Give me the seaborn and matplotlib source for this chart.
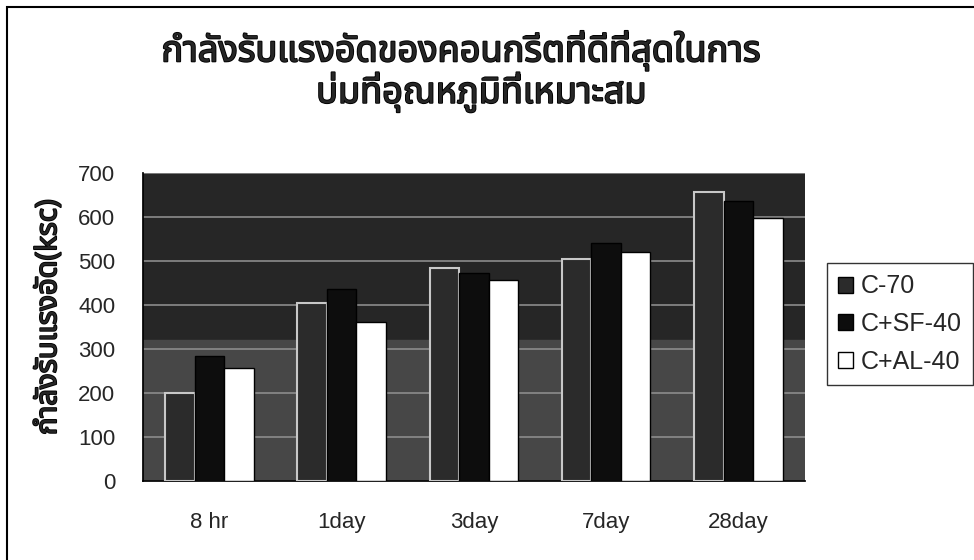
import matplotlib
matplotlib.use("Agg")
import matplotlib.pyplot as plt
import matplotlib.patheffects as pe
import pandas as pd
import seaborn as sns
from matplotlib.patches import Rectangle

# ข้อมูลกำลังรับแรงอัด (ksc)
ages = ["8 hr", "1day", "3day", "7day", "28day"]
mixes = ["C-70", "C+SF-40", "C+AL-40"]
c70 = [200, 405, 485, 505, 658]
csf40 = [284, 436, 472, 542, 637]
cal40 = [257, 361, 457, 520, 597]

title_1 = "กำลังรับแรงอัดของคอนกรีตที่ดีที่สุดในการ"
title_2 = "บ่มที่อุณหภูมิที่เหมาะสม"
y_label = "กำลังรับแรงอัด(ksc)"

df = pd.DataFrame({
    "age": ages * 3,
    "mix": [m for m in mixes for _ in ages],
    "ksc": c70 + csf40 + cal40,
})

sns.set_theme(style="white")
thai_fonts = ["Noto Sans Thai", "Noto Sans", "DejaVu Sans", "Liberation Sans"]
plt.rcParams["font.family"] = ["Liberation Sans", "DejaVu Sans"]
bold_fx = [pe.withStroke(linewidth=1.3, foreground="black")]

fig = plt.figure(figsize=(9.74, 5.6), dpi=100)
ax = fig.add_axes([0.147, 0.141, 0.679, 0.550])

# พื้นหลังพื้นที่กราฟ (สแกนสีเทาเข้ม)
ax.axhspan(320, 700, color="#262626", zorder=0.1)
ax.axhspan(0, 320, color="#474747", zorder=0.1)

palette = {"C-70": "#2b2b2b", "C+SF-40": "#0d0d0d", "C+AL-40": "#ffffff"}
sns.barplot(data=df, x="age", y="ksc", hue="mix", hue_order=mixes, order=ages,
            palette=palette, width=0.67, edgecolor="black", linewidth=1.0,
            saturation=1, ax=ax, zorder=3)
# ขอบแท่ง C-70 ดูสว่างในภาพสแกน
for bar in ax.containers[0]:
    bar.set_edgecolor("#c8c8c8")
    bar.set_linewidth(1.5)

ax.set_ylim(0, 700)
ax.set_xlim(-0.5, 4.5)
ax.set_yticks(range(0, 701, 100))
ax.yaxis.grid(True, color="#8c8c8c", linewidth=1.2, zorder=0.5)
ax.set_axisbelow(True)
ax.tick_params(axis="both", labelsize=16, color="black", direction="out")
ax.tick_params(axis="y", length=6, pad=14)
ax.tick_params(axis="x", pad=22)
ax.set_xlabel("")
ax.set_ylabel(y_label, family=thai_fonts, fontsize=21, path_effects=bold_fx)
ax.yaxis.set_label_coords(-0.121, 0.532)
for side in ["top", "right"]:
    ax.spines[side].set_visible(False)
for side in ["left", "bottom"]:
    ax.spines[side].set_color("black")

# เส้นแบ่งกลุ่มบนแกน x
ax.set_xticks([i for i in range(5)])
ax.set_xticks([i + 0.5 for i in range(-1, 5)], minor=True)
ax.tick_params(axis="x", which="major", length=0)
ax.tick_params(axis="x", which="minor", length=6, color="black")

ax.get_legend().remove()
handles, labels = ax.get_legend_handles_labels()
leg = fig.legend(handles, labels, loc="upper left", bbox_to_anchor=(0.849, 0.530),
                 frameon=True, fancybox=False, edgecolor="black", fontsize=18,
                 handlelength=0.6, handleheight=0.6, handletextpad=0.3,
                 borderpad=0.45, labelspacing=0.55, borderaxespad=0)
leg.get_frame().set_linewidth(1.0)
for h in leg.legend_handles:
    h.set_edgecolor("black")
    h.set_linewidth(1.0)

fig.text(0.473, 0.910, title_1, ha="center", va="center", fontsize=26,
         family=thai_fonts, path_effects=bold_fx)
fig.text(0.494, 0.836, title_2, ha="center", va="center", fontsize=26,
         family=thai_fonts, path_effects=bold_fx)

# กรอบรอบแผนภูมิ
fig.patches.append(Rectangle((0.007, -0.1), 1.2, 1.088, transform=fig.transFigure,
                             fill=False, edgecolor="black", linewidth=1.5))

fig.savefig("out.png", dpi=100)
